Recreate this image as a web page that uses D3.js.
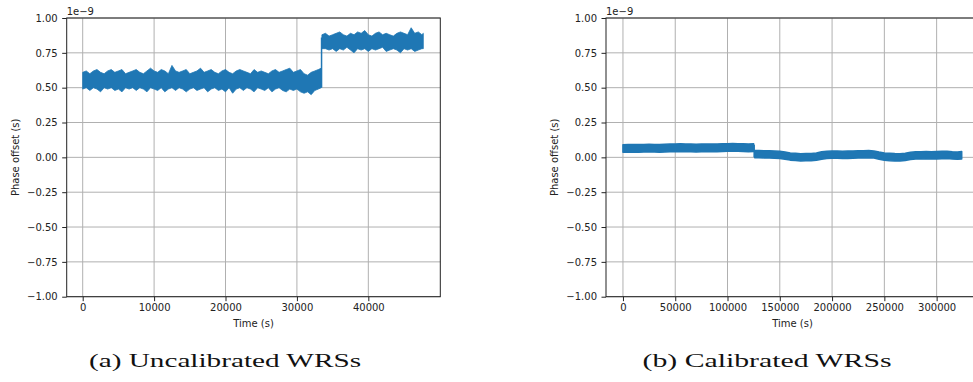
<!DOCTYPE html>
<html>
<head>
<meta charset="utf-8">
<script src="https://cdn.jsdelivr.net/npm/d3@7"></script>
<style>
  body { margin: 0; background: #fff; }
  text { font-family: "DejaVu Sans", sans-serif; fill: #222; }
</style>
</head>
<body>
<script>
// values in units of 1e-9 s (low / high)

// (a) uncalibrated, before the step
var timeA = [0,500,1000,1500,2000,2500,3000,3500,4000,4500,5000,5500,6000,6500,7000,7500,8000,8500,9000,9500,
  10000,10500,11000,11500,12000,12500,13000,13500,14000,14500,15000,15500,16000,16500,17000,17500,18000,18500,19000,19500,
  20000,20500,21000,21500,22000,22500,23000,23500,24000,24500,25000,25500,26000,26500,27000,27500,28000,28500,29000,29500,
  30000,30500,31000,31500,32000,32500,33000,33400];
var hiA = [0.61,0.62,0.60,0.62,0.63,0.61,0.60,0.62,0.63,0.61,
  0.62,0.63,0.60,0.61,0.62,0.63,0.61,0.60,0.62,0.64,
  0.62,0.61,0.63,0.62,0.60,0.66,0.62,0.61,0.62,0.63,
  0.60,0.61,0.62,0.64,0.61,0.62,0.63,0.61,0.60,0.62,
  0.63,0.61,0.60,0.62,0.63,0.62,0.61,0.60,0.63,0.61,
  0.62,0.61,0.60,0.62,0.63,0.61,0.62,0.63,0.64,0.61,
  0.62,0.63,0.60,0.59,0.61,0.62,0.63,0.64];
var loA = [0.49,0.50,0.48,0.50,0.49,0.47,0.50,0.49,0.50,0.48,
  0.49,0.47,0.50,0.49,0.50,0.48,0.50,0.49,0.47,0.50,
  0.49,0.48,0.50,0.47,0.49,0.50,0.48,0.50,0.49,0.47,
  0.49,0.50,0.48,0.49,0.50,0.47,0.49,0.50,0.48,0.49,
  0.47,0.50,0.46,0.49,0.50,0.48,0.50,0.49,0.47,0.50,
  0.49,0.48,0.50,0.47,0.49,0.50,0.48,0.47,0.49,0.48,
  0.49,0.47,0.46,0.47,0.45,0.48,0.49,0.50];

// (a) uncalibrated, after the step
var timeB = [33500,34000,34500,35000,35500,36000,36500,37000,37500,38000,38500,39000,39500,40000,40500,
  41000,41500,42000,42500,43000,43500,44000,44500,45000,45500,46000,46500,47000,47500,47700];
var hiB = [0.88,0.89,0.87,0.88,0.89,0.90,0.88,0.87,0.89,0.88,
  0.90,0.89,0.91,0.88,0.87,0.89,0.90,0.88,0.89,0.88,
  0.87,0.89,0.90,0.89,0.88,0.93,0.89,0.90,0.88,0.89];
var loB = [0.78,0.78,0.77,0.78,0.76,0.78,0.77,0.79,0.77,0.75,
  0.78,0.77,0.78,0.76,0.78,0.77,0.78,0.79,0.76,0.77,
  0.78,0.77,0.75,0.78,0.77,0.78,0.76,0.77,0.78,0.78];

// (b) calibrated, before the step
var timeC = [0,5000,10000,15000,20000,25000,30000,35000,40000,45000,50000,55000,60000,65000,70000,
  75000,80000,85000,90000,95000,100000,105000,110000,115000,120000,125000];
var hiC = [0.090,0.092,0.093,0.092,0.093,0.094,0.093,0.092,0.094,0.095,0.096,0.097,0.096,
  0.095,0.094,0.095,0.096,0.095,0.096,0.097,0.098,0.099,0.098,0.097,0.096,0.097];
var loC = [0.036,0.037,0.038,0.037,0.038,0.039,0.038,0.037,0.039,0.040,0.041,0.042,0.041,
  0.040,0.039,0.040,0.041,0.040,0.041,0.042,0.043,0.044,0.043,0.042,0.041,0.042];

// (b) calibrated, after the step
var timeD = [126000,130000,135000,140000,145000,150000,155000,160000,165000,170000,175000,180000,185000,190000,
  195000,200000,205000,210000,215000,220000,225000,230000,235000,240000,245000,250000,255000,260000,265000,
  270000,275000,280000,285000,290000,295000,300000,305000,310000,315000,320000,324000];
var hiD = [0.049,0.050,0.047,0.048,0.046,0.044,0.038,0.031,0.029,0.026,0.027,0.028,0.031,0.040,
  0.043,0.046,0.045,0.044,0.045,0.046,0.047,0.048,0.049,0.046,0.038,0.031,0.029,0.027,0.026,
  0.030,0.037,0.040,0.041,0.042,0.040,0.042,0.043,0.044,0.041,0.039,0.042];
var loD = [-0.003,-0.002,-0.004,-0.005,-0.006,-0.008,-0.013,-0.020,-0.023,-0.026,-0.025,-0.024,-0.021,-0.013,
  -0.009,-0.007,-0.006,-0.008,-0.009,-0.006,-0.005,-0.004,-0.003,-0.005,-0.013,-0.021,-0.024,-0.026,-0.027,
  -0.022,-0.016,-0.012,-0.011,-0.010,-0.012,-0.011,-0.010,-0.009,-0.011,-0.013,-0.011];

var yTicks = [-1, -0.75, -0.5, -0.25, 0, 0.25, 0.5, 0.75, 1];
var xTicksA = [0, 10000, 20000, 30000, 40000];
var xTicksB = [0, 50000, 100000, 150000, 200000, 250000, 300000];
var captions = ["(a) Uncalibrated WRSs", "(b) Calibrated WRSs"];

var blue = "#1f77b4";
var top_ = 18, bottom = 296.7;

var svg = d3.select("body").append("svg")
  .attr("width", 973)
  .attr("height", 382);

function toRows(t, lo, hi) {
  return t.map(function (d, i) { return { t: d, lo: lo[i], hi: hi[i] }; });
}

function drawPanel(p) {
  var x = d3.scaleLinear().domain(p.xDomain).range([p.left, p.right]);
  var y = d3.scaleLinear().domain([-1, 1]).range([bottom, top_]);
  var g = svg.append("g");

  // grid
  g.selectAll(".gx").data(p.xTicks).enter().append("line")
    .attr("x1", function (d) { return x(d); })
    .attr("x2", function (d) { return x(d); })
    .attr("y1", top_).attr("y2", bottom)
    .style("stroke", "#b0b0b0").style("stroke-width", 1);
  g.selectAll(".gy").data(yTicks).enter().append("line")
    .attr("x1", p.left).attr("x2", p.right)
    .attr("y1", function (d) { return y(d); })
    .attr("y2", function (d) { return y(d); })
    .style("stroke", "#b0b0b0").style("stroke-width", 1);

  // data bands
  var area = d3.area()
    .x(function (d) { return x(d.t); })
    .y0(function (d) { return y(d.lo); })
    .y1(function (d) { return y(d.hi); });
  p.segments.forEach(function (s) {
    g.append("path")
      .datum(s)
      .attr("d", area)
      .style("fill", blue)
      .style("stroke", blue)
      .style("stroke-width", p.stroke)
      .style("stroke-linejoin", "round");
  });
  if (p.joint) {
    g.append("line")
      .attr("x1", x(p.joint.t)).attr("x2", x(p.joint.t))
      .attr("y1", y(p.joint.a)).attr("y2", y(p.joint.b))
      .style("stroke", blue).style("stroke-width", 1.5);
  }

  // axes
  var xAxis = g.append("g")
    .attr("transform", "translate(0," + bottom + ")")
    .call(d3.axisBottom(x).tickValues(p.xTicks).tickFormat(d3.format("d"))
      .tickSize(4.5).tickPadding(3));
  var yAxis = g.append("g")
    .attr("transform", "translate(" + p.left + ",0)")
    .call(d3.axisLeft(y).tickValues(yTicks).tickFormat(d3.format(".2f"))
      .tickSize(4.5).tickPadding(4.5));
  [xAxis, yAxis].forEach(function (a) {
    a.select(".domain").remove();
    a.selectAll("line").style("stroke", "#222").style("stroke-width", 1);
    a.selectAll("text").style("font-size", "10px").style("font-family", "DejaVu Sans").style("fill", "#222");
  });

  // spines
  g.append("rect")
    .attr("x", p.left).attr("y", top_)
    .attr("width", p.right - p.left).attr("height", bottom - top_)
    .style("fill", "none").style("stroke", "#222").style("stroke-width", 1);

  g.append("text")
    .attr("x", p.left).attr("y", 15)
    .style("font-size", "10px")
    .text("1e\u22129");

  g.append("text")
    .attr("x", (p.left + p.right) / 2).attr("y", 327)
    .attr("text-anchor", "middle")
    .style("font-size", "10px")
    .text("Time (s)");

  g.append("text")
    .attr("transform", "translate(" + p.ylabelX + "," + ((top_ + bottom) / 2) + ") rotate(-90)")
    .attr("text-anchor", "middle")
    .style("font-size", "10px")
    .text("Phase offset (s)");

  g.append("text")
    .attr("transform", "translate(" + p.capX + ",367) scale(1,0.72)")
    .attr("text-anchor", "middle")
    .attr("textLength", p.capW)
    .attr("lengthAdjust", "spacingAndGlyphs")
    .style("font-family", "Liberation Serif, serif")
    .style("font-size", "26px")
    .style("fill", "#111")
    .text(p.caption);
}

drawPanel({
  left: 66.7, right: 440.3,
  xDomain: [-2240, 50080],
  xTicks: xTicksA,
  segments: [toRows(timeA, loA, hiA), toRows(timeB, loB, hiB)],
  joint: { t: 33450, a: 0.50, b: 0.86 },
  stroke: 0.8,
  ylabelX: 18.5,
  caption: captions[0], capX: 225, capW: 272
});

drawPanel({
  left: 606, right: 979,
  xDomain: [-16215, 340515],
  xTicks: xTicksB,
  segments: [toRows(timeC, loC, hiC), toRows(timeD, loD, hiD)],
  joint: { t: 125500, a: 0.0, b: 0.09 },
  stroke: 1.5,
  ylabelX: 558,
  caption: captions[1], capX: 767, capW: 249
});
</script>
</body>
</html>
